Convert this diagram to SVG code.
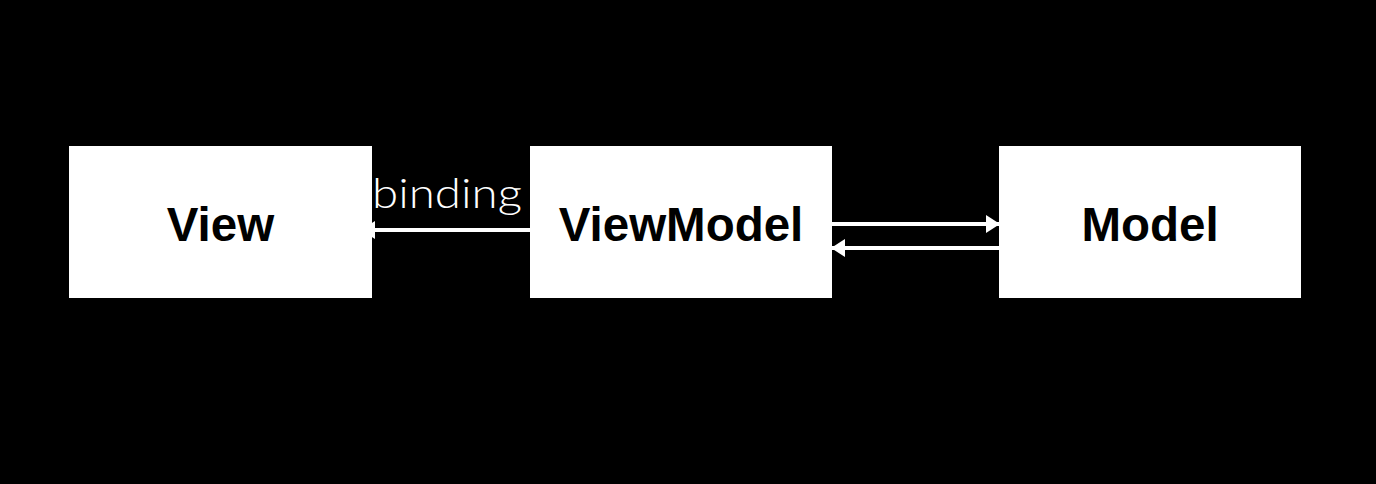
<svg xmlns="http://www.w3.org/2000/svg" width="1376" height="484" viewBox="0 0 1376 484">
<style>
.box{fill:#fff}
.lbl{font-family:"Liberation Sans",Arial,sans-serif;font-weight:bold;font-size:47.5px;fill:#000;text-anchor:middle}
.edge{stroke:#fff;stroke-width:4;fill:none}
.bind{font-family:Lato,"Open Sans",sans-serif;font-weight:300;font-size:41px;fill:#fff}
</style>
<defs>
<marker id="ah" markerWidth="14" markerHeight="18" refX="13" refY="9" orient="auto" markerUnits="userSpaceOnUse">
<path d="M0,0 L14,9 L0,18 Z" fill="#fff"/>
</marker>
</defs>
<rect width="1376" height="484" fill="#000"/>
<g id="connectors">
<line class="edge" x1="530" y1="230" x2="362" y2="230" stroke-width="3" marker-end="url(#ah)"/>
<line class="edge" x1="832" y1="224" x2="999" y2="224" marker-end="url(#ah)"/>
<line class="edge" x1="999" y1="248" x2="832" y2="248" marker-end="url(#ah)"/>
<text class="bind" x="372" y="208" textLength="150" lengthAdjust="spacingAndGlyphs">binding</text>
</g>
<g id="view">
<rect class="box" x="69" y="146" width="303" height="152"/>
<text class="lbl" x="220.5" y="240.5">View</text>
</g>
<g id="viewmodel">
<rect class="box" x="530" y="146" width="302" height="152"/>
<text class="lbl" x="681" y="240.5">ViewModel</text>
</g>
<g id="model">
<rect class="box" x="999" y="146" width="302" height="152"/>
<text class="lbl" x="1150" y="240.5">Model</text>
</g>
</svg>
